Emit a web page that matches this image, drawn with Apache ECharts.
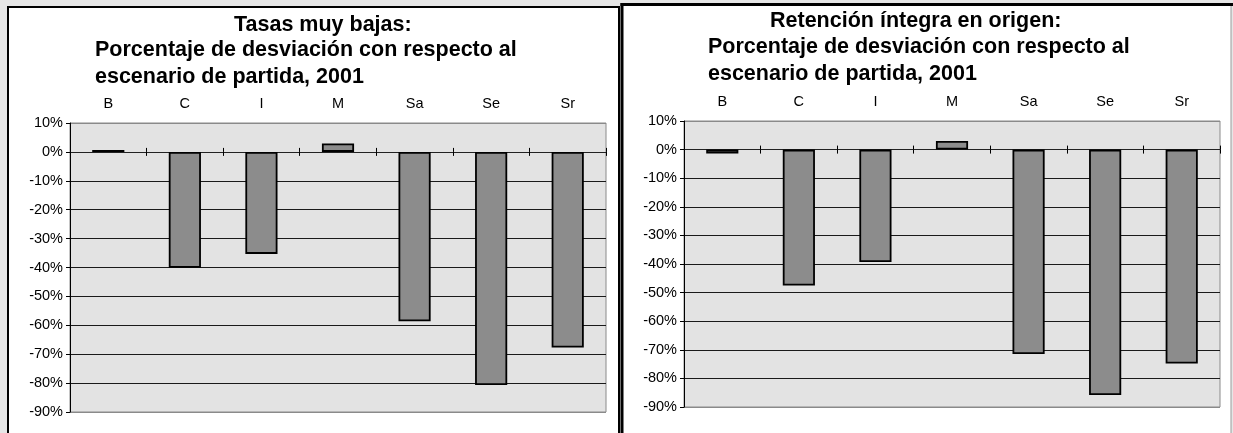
<!DOCTYPE html>
<html>
<head>
<meta charset="utf-8">
<script src="https://cdn.jsdelivr.net/npm/echarts@6/dist/echarts.min.js"></script>
<style>
html,body{margin:0;padding:0;background:#e6e6e6;}
#chart{width:1233px;height:433px;}
</style>
</head>
<body>
<div id="chart"></div>
<script>
// ---- data ----
const categories = ['B', 'C', 'I', 'M', 'Sa', 'Se', 'Sr'];
const tasasMuyBajas = [0.7, -40.1, -35.3, 2.9, -58.6, -80.7, -67.7];
const retencionIntegra = [-1.4, -47.5, -39.3, 3.0, -71.5, -85.8, -74.8];
const yMin = -90, yMax = 10, yStep = 10;
const titleLeft1 = 'Tasas muy bajas:';
const titleRight1 = 'Retención íntegra en origen:';
const titleSub = 'Porcentaje de desviación con respecto al\nescenario de partida, 2001';

const FONT = '"Liberation Sans", Arial, Helvetica, sans-serif';
const chart = echarts.init(document.getElementById('chart'), null, {renderer: 'canvas'});

const rects = [
  {left: 70, top: 123, width: 536, height: 289},
  {left: 684, top: 121, width: 536, height: 286}
];

// grids 0,1 visible; grids 2,3 are identical overlays used only for upward tick marks
const grids = rects.map(r => Object.assign({
  show: true, backgroundColor: '#e3e3e3', borderColor: '#8a8a8a', borderWidth: 1,
  outerBoundsMode: 'none', containLabel: false
}, r)).concat(rects.map(r => Object.assign({
  show: false, outerBoundsMode: 'none', containLabel: false
}, r)));

const splitColors = [];
for (let v = yMin; v <= yMax; v += yStep) {
  splitColors.push(v === yMin || v === yMax ? '#8a8a8a' : '#1a1a1a');
}

function xAxesMain(gi) {
  return [
    {
      type: 'category', gridIndex: gi, data: categories, position: 'bottom',
      axisLine: {show: true, onZero: true, lineStyle: {color: '#222', width: 1}},
      axisTick: {show: true, length: 4, lineStyle: {color: '#000', width: 1}},
      axisLabel: {show: false},
      splitLine: {show: false}
    },
    {
      type: 'category', gridIndex: gi, data: categories, position: 'top',
      axisLine: {show: false, onZero: false},
      axisTick: {show: false},
      axisLabel: {show: true, margin: 12, color: '#000', fontSize: 14.5, fontFamily: FONT},
      splitLine: {show: false}
    }
  ];
}

function xAxisUpTicks(gi) {
  return {
    type: 'category', gridIndex: gi, data: categories, position: 'bottom',
    axisLine: {show: true, onZero: true, lineStyle: {color: '#222', width: 1}},
    axisTick: {show: true, inside: true, length: 4, lineStyle: {color: '#000', width: 1}},
    axisLabel: {show: false},
    splitLine: {show: false}
  };
}

function yAxis(gi) {
  return {
    type: 'value', gridIndex: gi, min: yMin, max: yMax, interval: yStep,
    axisLine: {show: true, lineStyle: {color: '#000', width: 1}},
    axisTick: {show: true, length: 4, lineStyle: {color: '#000', width: 1}},
    axisLabel: {formatter: '{value}%', color: '#000', fontSize: 14.5, fontFamily: FONT, margin: 7},
    splitLine: {show: true, lineStyle: {color: splitColors, width: 1}}
  };
}

function yAxisHidden(gi) {
  return {
    type: 'value', gridIndex: gi, min: yMin, max: yMax, interval: yStep,
    axisLine: {show: false}, axisTick: {show: false}, axisLabel: {show: false},
    splitLine: {show: false}
  };
}

function barSeries(yi, xi, data) {
  return {
    type: 'bar', xAxisIndex: xi, yAxisIndex: yi, data: data,
    barWidth: '42%',
    itemStyle: {color: '#8c8c8c', borderColor: '#000', borderWidth: 1.8},
    emphasis: {disabled: true},
    silent: true,
    z: 3
  };
}

const titleStyle = {color: '#000', fontSize: 21.5, fontWeight: 'bold', fontFamily: FONT, lineHeight: 26.5};

const option = {
  backgroundColor: '#e6e6e6',
  animation: false,
  graphic: [
    {type: 'rect', z: -10, shape: {x: 8, y: 7, width: 611, height: 440},
     style: {fill: '#fff', stroke: '#000', lineWidth: 2}},
    {type: 'rect', z: -9, shape: {x: 622, y: 4.5, width: 609, height: 440},
     style: {fill: '#fff', stroke: null}},
    {type: 'line', z: -8, shape: {x1: 1231, y1: 4.5, x2: 1231, y2: 440},
     style: {stroke: '#9a9a9a', lineWidth: 1}},
    {type: 'line', z: -7, shape: {x1: 622, y1: 3, x2: 622, y2: 440},
     style: {stroke: '#000', lineWidth: 3}},
    {type: 'line', z: -7, shape: {x1: 620.5, y1: 4.5, x2: 1233, y2: 4.5},
     style: {stroke: '#000', lineWidth: 3}}
  ],
  title: [
    {text: titleLeft1, left: 234, top: 12, padding: 0, textStyle: titleStyle},
    {text: titleSub, left: 95, top: 37, padding: 0, textStyle: titleStyle},
    {text: titleRight1, left: 770, top: 8, padding: 0, textStyle: titleStyle},
    {text: titleSub, left: 708, top: 34, padding: 0, textStyle: titleStyle}
  ],
  grid: grids,
  // xAxis 0,1 -> grid 0; 2,3 -> grid 1; 4 -> grid 2; 5 -> grid 3
  xAxis: xAxesMain(0).concat(xAxesMain(1), [xAxisUpTicks(2), xAxisUpTicks(3)]),
  yAxis: [yAxis(0), yAxis(1), yAxisHidden(2), yAxisHidden(3)],
  series: [
    barSeries(0, 0, tasasMuyBajas),
    barSeries(1, 2, retencionIntegra)
  ]
};

chart.setOption(option);
</script>
</body>
</html>
